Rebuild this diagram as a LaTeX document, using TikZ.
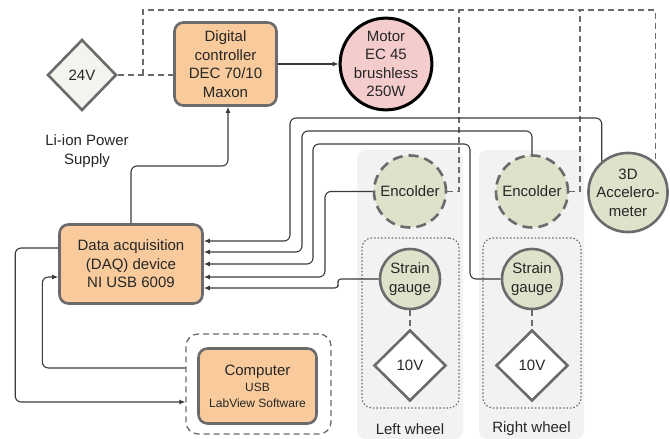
\documentclass[tikz,border=0pt]{standalone}
\usepackage{fontspec}
\setmainfont{Liberation Sans}
\usetikzlibrary{shapes.geometric,arrows.meta}
\definecolor{peach}{HTML}{F9CB9C}
\definecolor{pinkfill}{HTML}{F4CCCC}
\definecolor{sage}{HTML}{DDE3CA}
\definecolor{panelgray}{HTML}{F2F2F2}
\definecolor{edgegray}{HTML}{6B6B6B}
\definecolor{wire}{HTML}{3A3A3A}
\definecolor{inkc}{HTML}{262626}
\definecolor{offwhite}{HTML}{F4F4EE}
\newcommand{\smalltxt}{\fontsize{12}{15}\selectfont}
\begin{document}
\begin{tikzpicture}[x=1pt,y=-1pt,
  font=\fontsize{15}{18.5}\selectfont,
  every node/.style={text=inkc, align=center, inner sep=0pt},
  box/.style={draw=edgegray, line width=2.6pt, fill=peach, rounded corners=9pt},
  supply/.style={diamond, draw=edgegray, line width=2.6pt, aspect=1},
  sensor/.style={circle, draw=edgegray, line width=2.6pt, fill=sage},
  encoderc/.style={sensor, dash pattern=on 10pt off 6pt},
  panel/.style={fill=panelgray, rounded corners=8pt},
  group/.style={draw=edgegray, line width=1.1pt, dash pattern=on 1.5pt off 2pt, rounded corners=10pt},
  wirearrow/.style={draw=wire, line width=1.1pt, rounded corners=6pt, -{Latex[length=6pt,width=5pt]}},
  powerline/.style={draw=edgegray, line width=1.3pt, dash pattern=on 6pt off 4pt},
]
\useasboundingbox (0,0) rectangle (670,439);

% wheel panels and strain-gauge groups
\node[panel, minimum width=106, minimum height=289] (lpanel) at (410,294.5) {};
\node[panel, minimum width=105, minimum height=289] (rpanel) at (531.5,294.5) {};
\node[group, minimum width=97, minimum height=170] (lgroup) at (410.5,323) {};
\node[group, minimum width=98, minimum height=170] (rgroup) at (532,323) {};
\node (lwl) at (410,429) {Left wheel};
\node (rwl) at (531.5,429) {Right wheel};

% power supply, controller, motor
\node[supply, fill=offwhite, minimum width=69, minimum height=71] (v24) at (82,75) {24V};
\node (liion) at (87,151) {Li-ion Power\\Supply};
\node[box, minimum width=102, minimum height=83] (ctrl) at (225.5,64) {Digital\\controller\\DEC 70/10\\Maxon};
\node[circle, draw=black, line width=3pt, fill=pinkfill, minimum size=84] (motor) at (386,64) {Motor\\EC 45\\brushless\\250W};

% acquisition and computer
\node[box, minimum width=143, minimum height=79] (daq) at (131,264) {Data acquisition\\(DAQ) device\\NI USB 6009};
\node[draw=edgegray, line width=1.3pt, dash pattern=on 6pt off 4pt, rounded corners=12pt,
      minimum width=145, minimum height=100] (compo) at (258.5,384) {};
\node[box, minimum width=118, minimum height=75] (comp) at (257.5,386)
  {Computer\\[-2pt]{\smalltxt USB}\\[-3pt]{\smalltxt LabView Software}};

% sensors
\node[encoderc, minimum size=72] (lenc) at (410,191.5) {Encolder};
\node[encoderc, minimum size=72] (renc) at (532,191.5) {Encolder};
\node[sensor, minimum size=70] (acc) at (628,192.5) {3D\\Accelero-\\meter};
\node[sensor, minimum size=60] (lsg) at (410,279) {Strain\\gauge};
\node[sensor, minimum size=60] (rsg) at (532,279) {Strain\\gauge};
\node[supply, fill=white, minimum width=72, minimum height=71] (l10) at (410,365.5) {10V};
\node[supply, fill=white, minimum width=72, minimum height=71] (r10) at (532,365.5) {10V};

% power distribution (dashed)
\coordinate (tap) at (143,75);
\coordinate (topline) at (0,10);
\coordinate (ltap) at (459,10);
\coordinate (rtap) at (580,10);
\draw[powerline] (v24.east) -- (v24.east -| ctrl.west);
\draw[powerline] (tap) -- (tap |- topline) -- (acc.48 |- topline) -- (acc.48);
\draw[powerline] (lenc.east) -| (ltap);
\draw[powerline] (renc.east) -| (rtap);
\draw[powerline] (lsg.south) -- (l10.north);
\draw[powerline] (rsg.south) -- (r10.north);

% signal wiring
\draw[wirearrow] (ctrl.east) -- (motor.west);
\coordinate (k1) at (228,166);
\draw[wirearrow] (daq.north) |- (k1) -- (k1 |- ctrl.south);
\draw[wirearrow] ([yshift=16pt]daq.west) -- ++(-43,0) |- ([yshift=-18pt]compo.west);
\draw[wirearrow] ([yshift=16pt]compo.west) -- ++(-143,0) |- ([yshift=-13pt]daq.west);

\coordinate (a1) at (290,118);
\draw[wirearrow] (acc.130) |- (a1) |- ([yshift=23pt]daq.east);
\coordinate (a2) at (302,131);
\draw[wirearrow] (renc.north) |- (a2) |- ([yshift=12pt]daq.east);
\coordinate (a3) at (470,144);
\coordinate (a3b) at (313,144);
\draw[wirearrow] (rsg.west) -| (a3) -- (a3b) |- (daq.east);
\coordinate (a4) at (325,191.5);
\draw[wirearrow] (lenc.west) -- (a4) |- ([yshift=-13pt]daq.east);
\coordinate (a5) at (338,283.5);
\draw[wirearrow, rounded corners=3pt] (lsg.west) -| (a5) |- ([yshift=-24pt]daq.east);
\end{tikzpicture}
\end{document}
